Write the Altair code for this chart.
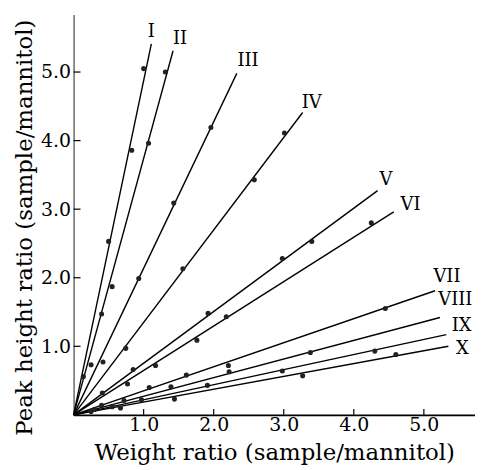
import altair as alt
import pandas as pd

# ---- data ----
series = ["I", "II", "III", "IV", "V", "VI", "VII", "VIII", "IX", "X"]
line_end_x = [1.11, 1.42, 2.33, 3.27, 4.34, 4.57, 5.16, 5.23, 5.32, 5.35]
line_end_y = [5.41, 5.31, 4.98, 4.41, 3.27, 2.96, 1.81, 1.42, 1.17, 1.00]
label_x = [1.11, 1.52, 2.49, 3.40, 4.46, 4.81, 5.33, 5.45, 5.54, 5.55]
label_y = [5.58, 5.48, 5.16, 4.55, 3.42, 3.06, 2.01, 1.68, 1.29, 0.96]

pts_I = [(0.50, 2.53), (0.83, 3.86), (1.00, 5.05)]
pts_II = [(0.14, 0.56), (0.25, 0.73), (0.40, 1.47), (0.55, 1.87), (1.07, 3.96), (1.31, 5.00)]
pts_III = [(0.42, 0.77), (0.93, 1.99), (1.43, 3.09), (1.96, 4.19)]
pts_IV = [(0.745, 0.97), (1.56, 2.13), (2.58, 3.43), (3.01, 4.11)]
pts_V = [(0.41, 0.32), (0.85, 0.66), (1.92, 1.48), (2.98, 2.28), (3.40, 2.53)]
pts_VI = [(0.77, 0.45), (1.17, 0.72), (1.76, 1.09), (2.18, 1.43), (4.25, 2.80)]
pts_VII = [(0.40, 0.14), (1.08, 0.40), (1.61, 0.58), (2.21, 0.72), (4.45, 1.55)]
pts_VIII = [(0.30, 0.08), (0.72, 0.21), (1.39, 0.41), (2.22, 0.63), (3.38, 0.91)]
pts_IX = [(0.55, 0.12), (0.97, 0.22), (1.91, 0.43), (2.98, 0.64), (4.30, 0.93)]
pts_X = [(0.25, 0.05), (0.67, 0.10), (1.44, 0.23), (3.27, 0.57), (4.60, 0.88)]

x_ticks = [1.0, 2.0, 3.0, 4.0, 5.0]
y_ticks = [1.0, 2.0, 3.0, 4.0, 5.0]

x_title = "Weight ratio (sample/mannitol)"
y_title = "Peak height ratio (sample/mannitol)"

# ---- tables ----
line_rows = []
for s, ex, ey in zip(series, line_end_x, line_end_y):
    line_rows.append({"series": s, "x": 0.0, "y": 0.0, "o": 0})
    line_rows.append({"series": s, "x": ex, "y": ey, "o": 1})
lines_df = pd.DataFrame(line_rows)

all_pts = [pts_I, pts_II, pts_III, pts_IV, pts_V, pts_VI, pts_VII, pts_VIII, pts_IX, pts_X]
pt_rows = []
for s, pl in zip(series, all_pts):
    for px, py in pl:
        pt_rows.append({"series": s, "x": px, "y": py})
pts_df = pd.DataFrame(pt_rows)

labels_df = pd.DataFrame({"series": series, "x": label_x, "y": label_y})
xt_df = pd.DataFrame({"v": x_ticks})
yt_df = pd.DataFrame({"v": y_ticks})

W, H = 404, 403
FONT = "DejaVu Serif"

xs = alt.Scale(domain=[0, 5.73], nice=False, zero=False)
ys = alt.Scale(domain=[0, 5.84], nice=False, zero=False)

x_axis = alt.Axis(
    values=x_ticks, format=".1f", ticks=False, grid=False,
    domainColor="black", domainWidth=1.6,
    labelFont=FONT, labelFontSize=19, labelColor="black", labelPadding=1,
    labelFlush=False,
    title=x_title, titleFont=FONT, titleFontSize=23, titleFontWeight="normal",
    titleColor="black", titleY=45, titleBaseline="alphabetic",
)
y_axis = alt.Axis(
    values=y_ticks, format=".1f", ticks=False, grid=False,
    domainColor="#444444", domainWidth=1.2,
    labelFont=FONT, labelFontSize=19, labelColor="black", labelPadding=3,
    labelFlush=False,
    title=y_title, titleFont=FONT, titleFontSize=23, titleFontWeight="normal",
    titleColor="black", titleX=-49, titleY=214, titleBaseline="middle",
)

lines = alt.Chart(lines_df).mark_line(color="black", strokeWidth=1.4).encode(
    x=alt.X("x:Q", scale=xs, axis=x_axis),
    y=alt.Y("y:Q", scale=ys, axis=y_axis),
    detail="series:N",
    order="o:Q",
)

points = alt.Chart(pts_df).mark_circle(size=26, color="#222222", opacity=1).encode(
    x=alt.X("x:Q", scale=xs),
    y=alt.Y("y:Q", scale=ys),
)

labels = alt.Chart(labels_df).mark_text(
    font=FONT, fontSize=18, align="center", baseline="middle", color="black"
).encode(
    x=alt.X("x:Q", scale=xs),
    y=alt.Y("y:Q", scale=ys),
    text="series:N",
)

xticks = alt.Chart(xt_df).mark_rule(color="black", strokeWidth=1.2).encode(
    x=alt.X("v:Q", scale=xs),
    y=alt.value(H),
    y2=alt.value(H - 6),
)
yticks = alt.Chart(yt_df).mark_rule(color="black", strokeWidth=1.2).encode(
    y=alt.Y("v:Q", scale=ys),
    x=alt.value(0),
    x2=alt.value(7),
)

chart = alt.layer(lines, points, labels, xticks, yticks).properties(
    width=W, height=H,
    autosize=alt.AutoSizeParams(type="none"),
    padding={"left": 66, "top": 5, "right": 0, "bottom": 52},
    background="white",
).configure_view(stroke=None)

chart.save("out.html", embed_options={"renderer": "svg", "actions": False})
